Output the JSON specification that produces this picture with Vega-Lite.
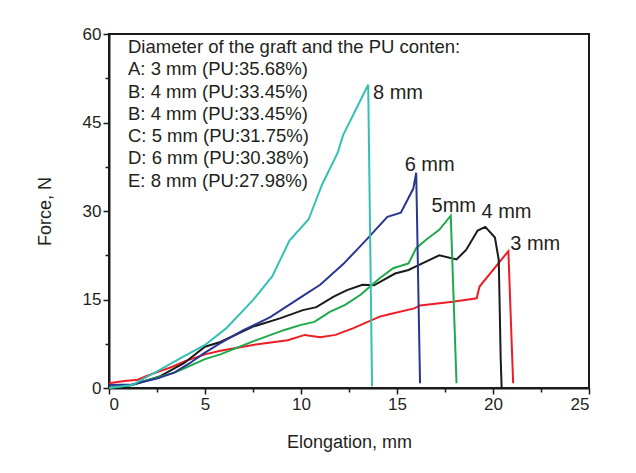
{
  "$schema": "https://vega.github.io/schema/vega-lite/v6.json",
  "width": 480,
  "height": 354,
  "autosize": {"type": "none"},
  "padding": {"left": 109, "top": 34, "right": 47, "bottom": 85},
  "background": "white",
  "config": {
    "font": "Liberation Sans",
    "view": {"stroke": "#1a1a1a", "strokeWidth": 2},
    "axis": {
      "domainColor": "#1a1a1a", "domainWidth": 2, "tickColor": "#1a1a1a", "tickWidth": 1.5,
      "labelFont": "Liberation Sans", "labelFontSize": 17, "labelColor": "#231f20",
      "titleFont": "Liberation Sans", "titleFontSize": 18, "titleFontWeight": "normal", "titleColor": "#231f20",
      "grid": false
    }
  },
  "datasets": {
    "curves": [
      {"s": "3 mm", "x": 0, "F": 0.8}, {"s": "3 mm", "x": 0.8, "F": 1.2}, {"s": "3 mm", "x": 1.5, "F": 1.4}, {"s": "3 mm", "x": 2.0, "F": 2.1}, {"s": "3 mm", "x": 2.7, "F": 2.9}, {"s": "3 mm", "x": 3.3, "F": 3.6}, {"s": "3 mm", "x": 4.0, "F": 4.6}, {"s": "3 mm", "x": 5.0, "F": 5.7}, {"s": "3 mm", "x": 5.8, "F": 6.3}, {"s": "3 mm", "x": 7.5, "F": 7.3}, {"s": "3 mm", "x": 9.3, "F": 8.1}, {"s": "3 mm", "x": 10.2, "F": 9.0}, {"s": "3 mm", "x": 11.0, "F": 8.6}, {"s": "3 mm", "x": 11.8, "F": 9.0}, {"s": "3 mm", "x": 12.7, "F": 10.1}, {"s": "3 mm", "x": 14.1, "F": 12.1}, {"s": "3 mm", "x": 14.6, "F": 12.5}, {"s": "3 mm", "x": 15.9, "F": 13.5}, {"s": "3 mm", "x": 16.2, "F": 14.0}, {"s": "3 mm", "x": 17.9, "F": 14.6}, {"s": "3 mm", "x": 19.15, "F": 15.2}, {"s": "3 mm", "x": 19.3, "F": 17.2}, {"s": "3 mm", "x": 20.8, "F": 23.2}, {"s": "3 mm", "x": 21.05, "F": 0.8},
      {"s": "4 mm", "x": 0, "F": 0}, {"s": "4 mm", "x": 1.2, "F": 0.5}, {"s": "4 mm", "x": 2.6, "F": 1.9}, {"s": "4 mm", "x": 3.9, "F": 4.2}, {"s": "4 mm", "x": 5.0, "F": 7.0}, {"s": "4 mm", "x": 5.8, "F": 7.8}, {"s": "4 mm", "x": 7.5, "F": 10.4}, {"s": "4 mm", "x": 8.9, "F": 11.8}, {"s": "4 mm", "x": 10.1, "F": 13.2}, {"s": "4 mm", "x": 10.8, "F": 13.7}, {"s": "4 mm", "x": 11.7, "F": 15.5}, {"s": "4 mm", "x": 12.4, "F": 16.6}, {"s": "4 mm", "x": 13.2, "F": 17.5}, {"s": "4 mm", "x": 13.8, "F": 17.4}, {"s": "4 mm", "x": 14.9, "F": 19.4}, {"s": "4 mm", "x": 15.6, "F": 20.0}, {"s": "4 mm", "x": 16.1, "F": 20.8}, {"s": "4 mm", "x": 17.2, "F": 22.5}, {"s": "4 mm", "x": 18.1, "F": 21.8}, {"s": "4 mm", "x": 18.6, "F": 23.4}, {"s": "4 mm", "x": 19.2, "F": 26.7}, {"s": "4 mm", "x": 19.6, "F": 27.3}, {"s": "4 mm", "x": 20.1, "F": 25.5}, {"s": "4 mm", "x": 20.3, "F": 21.7}, {"s": "4 mm", "x": 20.4, "F": 5.0}, {"s": "4 mm", "x": 20.45, "F": 0},
      {"s": "5 mm", "x": 0, "F": 0}, {"s": "5 mm", "x": 1.2, "F": 0.5}, {"s": "5 mm", "x": 2.5, "F": 1.8}, {"s": "5 mm", "x": 3.4, "F": 2.6}, {"s": "5 mm", "x": 3.9, "F": 3.3}, {"s": "5 mm", "x": 5.0, "F": 4.9}, {"s": "5 mm", "x": 5.8, "F": 5.7}, {"s": "5 mm", "x": 7.5, "F": 7.9}, {"s": "5 mm", "x": 9.1, "F": 9.8}, {"s": "5 mm", "x": 10.0, "F": 10.7}, {"s": "5 mm", "x": 10.7, "F": 11.2}, {"s": "5 mm", "x": 11.5, "F": 12.9}, {"s": "5 mm", "x": 12.3, "F": 14.1}, {"s": "5 mm", "x": 13.1, "F": 15.8}, {"s": "5 mm", "x": 14.1, "F": 18.6}, {"s": "5 mm", "x": 14.8, "F": 20.3}, {"s": "5 mm", "x": 15.6, "F": 21.1}, {"s": "5 mm", "x": 16.0, "F": 23.7}, {"s": "5 mm", "x": 16.5, "F": 25.1}, {"s": "5 mm", "x": 17.2, "F": 26.8}, {"s": "5 mm", "x": 17.8, "F": 29.2}, {"s": "5 mm", "x": 18.1, "F": 0.8},
      {"s": "6 mm", "x": 0, "F": 0.5}, {"s": "6 mm", "x": 1.2, "F": 0.6}, {"s": "6 mm", "x": 2.5, "F": 1.6}, {"s": "6 mm", "x": 3.4, "F": 2.6}, {"s": "6 mm", "x": 4.2, "F": 4.2}, {"s": "6 mm", "x": 5.0, "F": 6.0}, {"s": "6 mm", "x": 5.8, "F": 7.6}, {"s": "6 mm", "x": 7.0, "F": 9.8}, {"s": "6 mm", "x": 8.4, "F": 12.0}, {"s": "6 mm", "x": 10.0, "F": 15.4}, {"s": "6 mm", "x": 11.0, "F": 17.5}, {"s": "6 mm", "x": 12.2, "F": 21.0}, {"s": "6 mm", "x": 13.4, "F": 25.1}, {"s": "6 mm", "x": 14.5, "F": 29.0}, {"s": "6 mm", "x": 15.2, "F": 29.7}, {"s": "6 mm", "x": 15.85, "F": 33.8}, {"s": "6 mm", "x": 16.0, "F": 36.5}, {"s": "6 mm", "x": 16.2, "F": 0.8},
      {"s": "8 mm", "x": 0, "F": 0}, {"s": "8 mm", "x": 1.2, "F": 0.5}, {"s": "8 mm", "x": 2.5, "F": 2.8}, {"s": "8 mm", "x": 3.8, "F": 5.2}, {"s": "8 mm", "x": 5.0, "F": 7.3}, {"s": "8 mm", "x": 6.1, "F": 10.1}, {"s": "8 mm", "x": 7.5, "F": 14.9}, {"s": "8 mm", "x": 8.5, "F": 18.9}, {"s": "8 mm", "x": 9.4, "F": 25.0}, {"s": "8 mm", "x": 10.4, "F": 28.6}, {"s": "8 mm", "x": 11.1, "F": 34.5}, {"s": "8 mm", "x": 11.9, "F": 39.8}, {"s": "8 mm", "x": 12.2, "F": 42.9}, {"s": "8 mm", "x": 13.5, "F": 51.4}, {"s": "8 mm", "x": 13.7, "F": 0.3}
    ],
    "labels": [
      {"t": "8 mm", "x": 13.75, "F": 50.0},
      {"t": "6 mm", "x": 15.4, "F": 37.8},
      {"t": "5mm", "x": 16.8, "F": 30.8},
      {"t": "4 mm", "x": 19.4, "F": 29.8},
      {"t": "3 mm", "x": 20.9, "F": 24.4}
    ],
    "note": [
      {"t": "Diameter of the graft and the PU conten:\nA: 3 mm (PU:35.68%)\nB: 4 mm (PU:33.45%)\nB: 4 mm (PU:33.45%)\nC: 5 mm (PU:31.75%)\nD: 6 mm (PU:30.38%)\nE: 8 mm (PU:27.98%)", "x": 0.99, "F": 57.8}
    ]
  },
  "layer": [
    {
      "data": {"name": "curves"},
      "mark": {"type": "line", "strokeWidth": 2},
      "encoding": {
        "x": {
          "field": "x", "type": "quantitative",
          "scale": {"domain": [0, 25], "nice": false, "zero": false},
          "axis": {
            "title": "Elongation, mm", "titlePadding": 21,
            "values": [0, 2.5, 5, 7.5, 10, 12.5, 15, 17.5, 20, 22.5, 25],
            "labelExpr": "datum.value % 5 === 0 ? datum.label : ''",
            "tickSize": {"condition": {"test": "datum.value % 5 === 0", "value": 6}, "value": 4},
            "labelPadding": 2
          }
        },
        "y": {
          "field": "F", "type": "quantitative",
          "scale": {"domain": [0, 60], "nice": false, "zero": false},
          "axis": {
            "title": "Force, N", "titlePadding": 28,
            "values": [0, 7.5, 15, 22.5, 30, 37.5, 45, 52.5, 60],
            "labelExpr": "datum.value % 15 === 0 ? datum.label : ''",
            "tickSize": {"condition": {"test": "datum.value % 15 === 0", "value": 6}, "value": 4},
            "labelPadding": 2
          }
        },
        "color": {
          "field": "s", "type": "nominal",
          "scale": {"domain": ["3 mm", "4 mm", "5 mm", "6 mm", "8 mm"], "range": ["#ee1c25", "#1a1a1a", "#1eaa4a", "#2b3593", "#35c0b5"]},
          "legend": null
        }
      }
    },
    {
      "data": {"name": "labels"},
      "mark": {"type": "text", "align": "left", "baseline": "middle", "fontSize": 20, "color": "#231f20"},
      "encoding": {
        "x": {"field": "x", "type": "quantitative"},
        "y": {"field": "F", "type": "quantitative"},
        "text": {"field": "t"}
      }
    },
    {
      "data": {"name": "note"},
      "mark": {"type": "text", "align": "left", "baseline": "middle", "fontSize": 18.5, "lineBreak": "\n", "lineHeight": 22.3, "color": "#231f20"},
      "encoding": {
        "x": {"field": "x", "type": "quantitative"},
        "y": {"field": "F", "type": "quantitative"},
        "text": {"field": "t"}
      }
    }
  ]
}
